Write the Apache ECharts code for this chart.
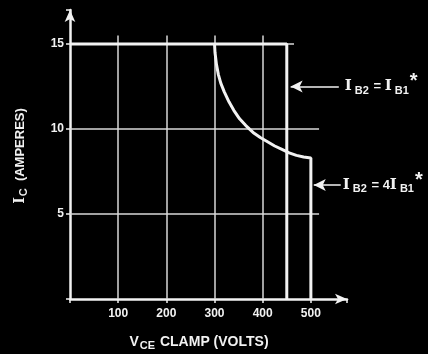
<!DOCTYPE html>
<html><head><meta charset="utf-8">
<script src="https://cdn.jsdelivr.net/npm/echarts@6/dist/echarts.min.js"></script>
<style>html,body{margin:0;background:#000}#c{width:428px;height:354px}</style>
</head><body><div id="c"></div>
<script>
// ---- data ----
const xTickLabels = [100, 200, 300, 400, 500];
const yTickLabels = [5, 10, 15];
const curveIB1 = [[0, 15], [450, 15], [450, 0]];
const curve4IB1 = [[300, 15], [301, 14.5], [304, 13.8], [308, 13.2], [313, 12.7], [320, 12.2], [330, 11.6], [340, 11.1], [352, 10.6], [365, 10.2], [380, 9.8], [395, 9.5], [410, 9.25], [425, 9.0], [440, 8.8], [455, 8.6], [470, 8.45], [485, 8.35], [500, 8.3], [500, 0]];
const vGridX = [100, 200, 300, 400];
const hGridY = [5, 10];
const labelIB1 = '{i|I}{s|B2}{m| = }{i|I}{s|B1}{a|*}';
const label4IB1 = '{i|I}{s|B2}{m| = 4}{i|I}{s|B1}{a|*}';

const chart = echarts.init(document.getElementById('c'));
const white = '#f2f2f2';
const grid = '#d8d8d8';
const font = 'Liberation Sans';

const gridLines = [];
vGridX.forEach(x => gridLines.push([{coord: [x, 0]}, {coord: [x, 15.5]}]));
hGridY.forEach(y => gridLines.push([{coord: [0, y]}, {coord: [517, y]}]));
gridLines.push([{coord: [0, 15]}, {coord: [465, 15]}]);

const rich = {
  i: {fontSize: 15, fontWeight: 'bold', color: white, fontFamily: 'DejaVu Serif', padding: [0, 1, 0, 0]},
  m: {fontSize: 13, fontWeight: 'bold', color: white, fontFamily: font},
  s: {fontSize: 11, fontWeight: 'bold', color: white, fontFamily: font, padding: [8, 1, 0, 2]},
  a: {fontSize: 20, fontWeight: 'bold', color: white, fontFamily: font, padding: [0, 0, 10, 0]}
};

chart.setOption({
  backgroundColor: '#000',
  animation: false,
  grid: {left: 70, right: 81, top: 10, bottom: 55},
  xAxis: {
    type: 'value', min: 0, max: 575, interval: 100,
    axisLine: {lineStyle: {color: white, width: 2.5}, symbol: ['none', 'arrow'], symbolSize: [8, 12]},
    axisTick: {show: true, length: 4, lineStyle: {color: white, width: 1.5}},
    splitLine: {show: false},
    axisLabel: {color: white, fontSize: 12, fontWeight: 'bold', fontFamily: font, margin: 9,
      formatter: v => xTickLabels.includes(v) ? String(v) : ''}
  },
  yAxis: {
    type: 'value', min: 0, max: 17, interval: 5,
    axisLine: {lineStyle: {color: white, width: 2.5}, symbol: ['none', 'arrow'], symbolSize: [8, 12]},
    axisTick: {show: true, length: 4, lineStyle: {color: white, width: 1.5}},
    splitLine: {show: false},
    axisLabel: {color: white, fontSize: 12, fontWeight: 'bold', fontFamily: font, margin: 6,
      formatter: v => yTickLabels.includes(v) ? String(v) : ''}
  },
  graphic: [
    {type: 'text', x: 199, y: 342, z: 10, style: {
      align: 'center', verticalAlign: 'middle', fill: white,
      rich: {
        m: {fontSize: 14, fontWeight: 'bold', fill: white, fontFamily: font},
        s: {fontSize: 11, fontWeight: 'bold', fill: white, fontFamily: font, padding: [7, 1, 0, 1]}
      },
      text: '{m|V}{s|CE}{m| CLAMP (VOLTS)}'}},
    {type: 'text', x: 20, y: 156, rotation: Math.PI / 2, z: 10, style: {
      align: 'center', verticalAlign: 'middle', fill: white,
      rich: {
        m: {fontSize: 13, fontWeight: 'bold', fill: white, fontFamily: font},
        i: {fontSize: 14, fontWeight: 'bold', fill: white, fontFamily: 'DejaVu Serif'},
        s: {fontSize: 11, fontWeight: 'bold', fill: white, fontFamily: font, padding: [7, 0, 0, 1]}
      },
      text: '{i|I}{s|C}{m|  (AMPERES)}'}}
  ],
  series: [
    {type: 'line', data: curveIB1, showSymbol: false, lineStyle: {color: white, width: 3}, z: 5,
      markLine: {silent: true, symbol: 'none', animation: false,
        lineStyle: {color: grid, width: 1.5, type: 'solid'}, label: {show: false},
        data: gridLines}},
    {type: 'line', data: curve4IB1, showSymbol: false, smooth: false, lineStyle: {color: white, width: 3}, z: 5,
      markLine: {silent: true, symbol: ['none', 'arrow'], symbolSize: [9, 12], animation: false,
        lineStyle: {color: white, width: 1.5, type: 'solid'},
        data: [
          [{coord: [558, 12.5], label: {show: true, position: 'start', formatter: labelIB1, rich: rich, distance: 6}}, {coord: [458, 12.5]}],
          [{coord: [562, 6.7], label: {show: true, position: 'start', formatter: label4IB1, rich: rich, distance: 2}}, {coord: [506, 6.7]}]
        ]}}
  ]
});
</script></body></html>
